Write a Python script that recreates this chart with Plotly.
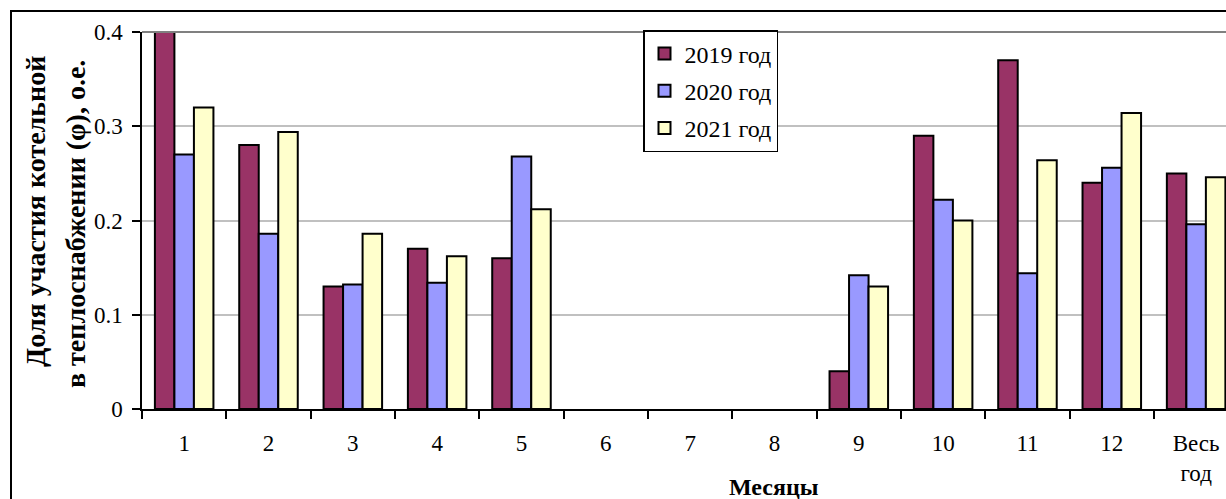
import plotly.graph_objects as go

# Месяцы и доля участия котельной по годам
categories = ["1", "2", "3", "4", "5", "6", "7", "8", "9", "10", "11", "12", "Весь год"]
tick_labels = ["1", "2", "3", "4", "5", "6", "7", "8", "9", "10", "11", "12", "Весь<br>год"]
share_2019 = [0.40, 0.280, 0.130, 0.170, 0.160, None, None, None, 0.040, 0.290, 0.370, 0.240, 0.250]
share_2020 = [0.270, 0.186, 0.132, 0.134, 0.268, None, None, None, 0.142, 0.222, 0.144, 0.256, 0.196]
share_2021 = [0.320, 0.294, 0.186, 0.162, 0.212, None, None, None, 0.130, 0.200, 0.264, 0.314, 0.246]
series_names = ["2019 год", "2020 год", "2021 год"]
y_ticks = [0, 0.1, 0.2, 0.3, 0.4]
y_tick_labels = ["0", "0.1", "0.2", "0.3", "0.4"]

colors = ["#993366", "#9999FF", "#FFFFCC"]
FONT = "Liberation Serif"

W, H = 1226, 499
L, R, T, B = 142, 0, 32, 90
plot_w = W - L - R
plot_h = H - T - B
cat_w = 84.33  # px per category


def px_x(px):
    return (px - L) / plot_w


def px_y(py):
    return (H - B - py) / plot_h


fig = go.Figure()
for i, (name, vals) in enumerate(zip(series_names, [share_2019, share_2020, share_2021])):
    fig.add_trace(go.Bar(
        x=categories, y=vals, name=name,
        legendgroup=name,
        marker=dict(color=colors[i], line=dict(color="black", width=2)),
    ))

x_max = -0.5 + plot_w / cat_w

fig.update_layout(
    width=W, height=H, autosize=False,
    margin=dict(l=L, r=R, t=T, b=B, pad=0),
    plot_bgcolor="white", paper_bgcolor="white",
    barmode="group", bargap=0.306, bargroupgap=0,
    font=dict(family=FONT, color="black", size=23),
    showlegend=True,
    legend=dict(
        x=px_x(643), y=px_y(30), xanchor="left", yanchor="top",
        bgcolor="white", bordercolor="black", borderwidth=1.5,
        font=dict(family=FONT, size=24, color="black"),
        tracegroupgap=3,
    ),
    xaxis=dict(
        type="category", range=[-0.5, x_max],
        tickmode="array", tickvals=categories, ticktext=tick_labels,
        tickson="boundaries", ticks="outside", ticklen=8, tickwidth=1.5, tickcolor="black",
        showline=True, linecolor="black", linewidth=1.5,
        showgrid=False, zeroline=False,
        tickfont=dict(family=FONT, size=23, color="black"),
        ticklabelstandoff=13,
        fixedrange=True,
    ),
    yaxis=dict(
        range=[0, 0.4],
        tickmode="array", tickvals=y_ticks, ticktext=y_tick_labels,
        ticks="outside", ticklen=8, tickwidth=1.5, tickcolor="black",
        showline=True, linecolor="black", linewidth=1.5,
        showgrid=True, gridcolor="#C0C0C0", gridwidth=1.5,
        zeroline=False,
        tickfont=dict(family=FONT, size=23, color="black"),
        ticklabelstandoff=5,
        fixedrange=True,
    ),
)

# Верхняя граница области построения
fig.add_shape(type="line", xref="paper", yref="paper", x0=0, x1=1, y0=1, y1=1,
              line=dict(color="#808080", width=2))

# Рамка диаграммы
fig.add_shape(type="path", xref="paper", yref="paper",
              path=f"M {px_x(11)} {px_y(520)} L {px_x(11)} {px_y(11)} L {px_x(1250)} {px_y(11)}",
              line=dict(color="black", width=2))

# Подписи осей
fig.add_annotation(text="<b>Доля участия котельной</b>", textangle=-90,
                   xref="paper", yref="paper", x=px_x(35), y=px_y(212),
                   xanchor="center", yanchor="middle", showarrow=False,
                   font=dict(family=FONT, size=28, color="black"))
fig.add_annotation(text="<b>в теплоснабжении (φ), о.е.</b>", textangle=-90,
                   xref="paper", yref="paper", x=px_x(75), y=px_y(224),
                   xanchor="center", yanchor="middle", showarrow=False,
                   font=dict(family=FONT, size=28, color="black"))
fig.add_annotation(text="<b>Месяцы</b>",
                   xref="x", yref="paper", x=categories[6], y=px_y(487),
                   xanchor="center", yanchor="middle", showarrow=False,
                   font=dict(family=FONT, size=24, color="black"))

fig.write_html("out.html")
